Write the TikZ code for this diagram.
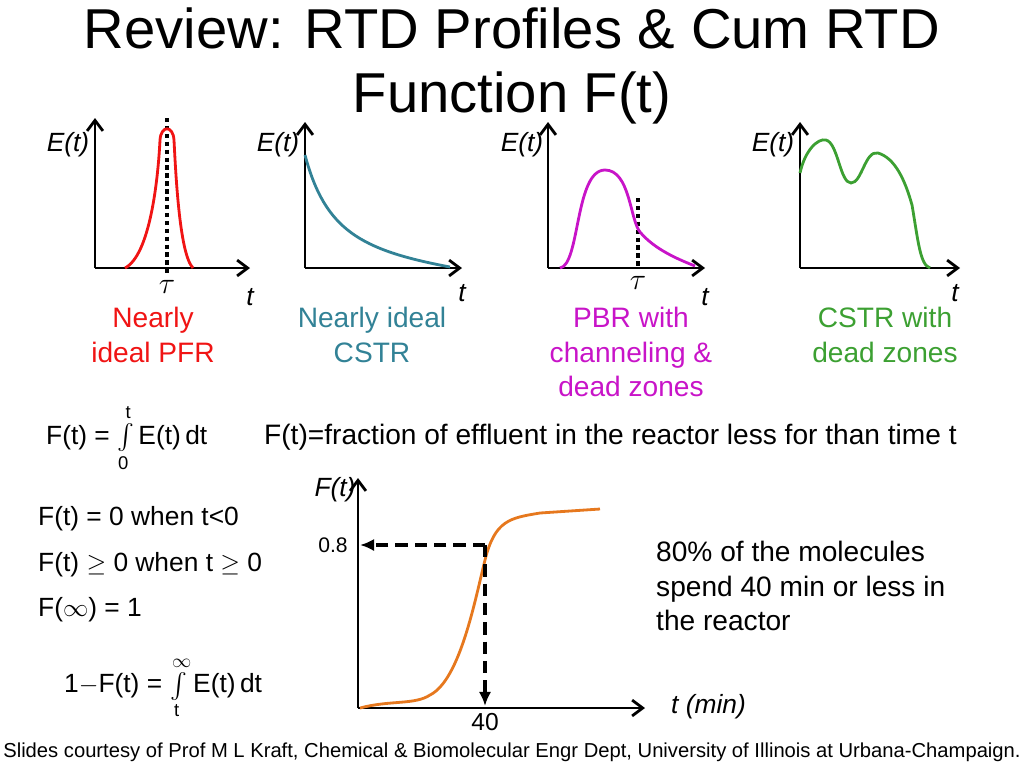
\documentclass[tikz,border=0pt]{standalone}
\usepackage{fontspec}
\setmainfont{Liberation Sans}
\usepackage{amsmath}
\usetikzlibrary{arrows.meta}
\definecolor{pfrred}{RGB}{240,20,20}
\definecolor{cstrteal}{RGB}{50,130,150}
\definecolor{pbrmag}{RGB}{200,20,200}
\definecolor{deadgreen}{RGB}{60,160,50}
\definecolor{cumorange}{RGB}{230,120,30}
\tikzset{
  axis/.style={line width=1.6pt,-{Straight Barb[length=6pt,width=9pt]}},
  curve/.style={line width=1.6pt},
  lbl/.style={font=\fontsize{16}{19.5}\selectfont,align=center},
  axlbl/.style={font=\fontsize{15}{17}\selectfont\itshape},
  eqn/.style={font=\fontsize{15}{17}\selectfont,anchor=west},
  taulbl/.style={font=\fontsize{17}{19}\selectfont},
  guide/.style={line width=2pt,dash pattern=on 7pt off 4pt,-{Latex[length=8pt,width=7pt]}}
}
\begin{document}
\begin{tikzpicture}[x=0.02cm,y=-0.02cm]
  \useasboundingbox (0,0) rectangle (1024,768);
  \node[font=\fontsize{32}{36}\selectfont,align=center] (title) at (512,66) {Review: RTD Profiles \& Cum RTD\\Function F(t)};
  % E(t) profiles
  \draw[axis] (95,268) -- (95,118);
  \draw[axis] (95,268) -- (250,268);
  \draw[dotted,line width=2.5pt] (167,118) -- (167,276);
  \draw[curve,pfrred] (125,268) .. controls (150,255) and (158,180) .. (160,140)
     .. controls (161,125) and (173,125) .. (174,140)
     .. controls (176,180) and (180,255) .. (193,268);
  \node[taulbl] (tau1) at (167,287) {$\tau$};
  \node[axlbl] (e1) at (68,145) {E(t)};
  \node[axlbl] (t1) at (250,297) {t};
  \node[lbl,pfrred] (pfr) at (153,335) {Nearly\\ideal PFR};
  %
  \draw[axis] (305,268) -- (305,122);
  \draw[axis] (305,268) -- (462,268);
  \draw[curve,cstrteal] (305,155) .. controls (325,230) and (360,250) .. (450,267);
  \node[axlbl] (e2) at (278,145) {E(t)};
  \node[axlbl] (t2) at (462,293) {t};
  \node[lbl,cstrteal] (cstr) at (372,335) {Nearly ideal\\CSTR};
  %
  \draw[axis] (548,268) -- (548,122);
  \draw[axis] (548,268) -- (705,268);
  \draw[dotted,line width=2.5pt] (638,198) -- (638,268);
  \draw[curve,pbrmag] (560,268) .. controls (580,265) and (575,170) .. (605,170)
     .. controls (630,170) and (630,220) .. (640,232)
     .. controls (655,250) and (680,260) .. (695,266);
  \node[taulbl] (tau3) at (638,283) {$\tau$};
  \node[axlbl] (e3) at (522,145) {E(t)};
  \node[axlbl] (t3) at (705,297) {t};
  \node[lbl,pbrmag] (pbr) at (631,352) {PBR with\\channeling \&\\dead zones};
  %
  \draw[axis] (800,268) -- (800,122);
  \draw[axis] (800,268) -- (960,268);
  \draw[curve,deadgreen] (800,173) .. controls (805,150) and (818,138) .. (826,140)
     .. controls (838,143) and (840,183) .. (851,183)
     .. controls (862,183) and (865,150) .. (878,153)
     .. controls (895,158) and (905,180) .. (912,205)
     .. controls (918,240) and (920,265) .. (930,268);
  \node[axlbl] (e4) at (773,145) {E(t)};
  \node[axlbl] (t4) at (955,293) {t};
  \node[lbl,deadgreen] (dead) at (885,335) {CSTR with\\dead zones};
  % cumulative
  \node[eqn] (def) at (40,438) {F(t) = $\int\limits_{\text{0}}^{\text{t}}$\,E(t)\,dt};
  \node[lbl,anchor=west] (frac) at (258,437) {F(t)=fraction of effluent in the reactor less for than time t};
  \node[eqn] (c1) at (32,519) {F(t) = 0 when t<0};
  \node[eqn] (c2) at (32,565) {F(t) $\geq$ 0 when t $\geq$ 0};
  \node[eqn] (c3) at (32,610) {F($\infty$) = 1};
  \node[eqn] (c4) at (58,688) {1$-$F(t) = $\int\limits_{\text{t}}^{\infty}$\,E(t)\,dt};
  \draw[axis] (358,708) -- (358,478);
  \draw[axis] (358,708) -- (645,708);
  \node[axlbl] (fy) at (335,490) {F(t)};
  \node[axlbl,anchor=west] (tx) at (665,707) {t (min)};
  \draw[curve,cumorange] (360,708) .. controls (390,700) and (415,705) .. (430,695)
     .. controls (460,680) and (475,600) .. (485,560)
     .. controls (495,520) and (510,518) .. (540,513) -- (600,509);
  \coordinate (p) at (485,545);
  \node[font=\fontsize{12}{14}\selectfont] (y08) at (333,545) {0.8};
  \node[font=\fontsize{14}{16}\selectfont] (x40) at (485,722) {40};
  \draw[guide] (p) -- (360,545);
  \draw[guide] (p) -- (485,706);
  \node[lbl,align=left,anchor=west] (note) at (650,586) {80\% of the molecules\\spend 40 min or less in\\the reactor};
  \node[font=\fontsize{11.5}{13}\selectfont] (foot) at (512,752) {Slides courtesy of Prof M L Kraft, Chemical \& Biomolecular Engr Dept, University of Illinois at Urbana-Champaign.};
\end{tikzpicture}
\end{document}
